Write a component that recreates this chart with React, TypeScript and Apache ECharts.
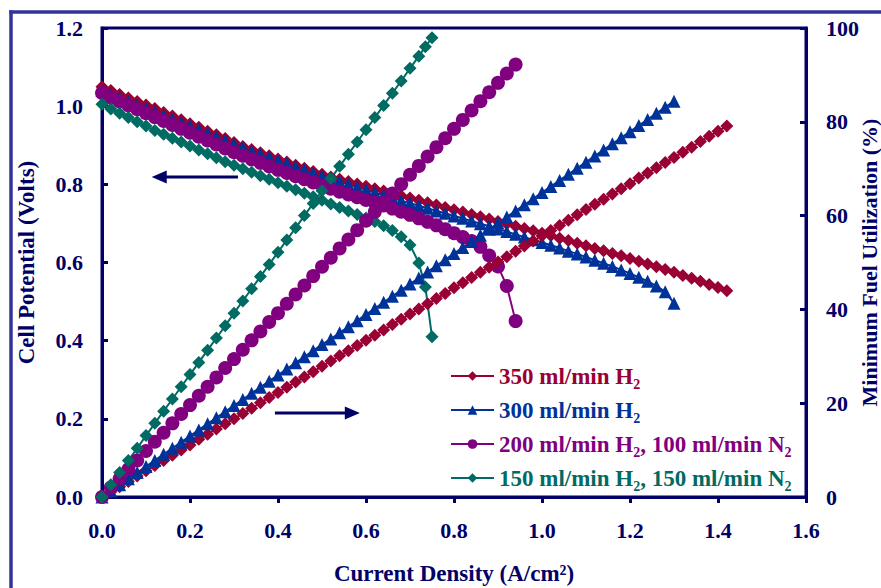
import React, { useEffect, useRef } from 'react';
import * as echarts from 'echarts';

const NAVY = '#000066';
const FONT = '"Liberation Serif", "Times New Roman", serif';

// Current density grid (A/cm2)
const currentGrid = [
  0, 0.02, 0.04, 0.06, 0.08, 0.1, 0.12, 0.14, 0.16, 0.18,
  0.2, 0.22, 0.24, 0.26, 0.28, 0.3, 0.32, 0.34, 0.36, 0.38,
  0.4, 0.42, 0.44, 0.46, 0.48, 0.5, 0.52, 0.54, 0.56, 0.58,
  0.6, 0.62, 0.64, 0.66, 0.68, 0.7, 0.72, 0.74, 0.76, 0.78,
  0.8, 0.82, 0.84, 0.86, 0.88, 0.9, 0.92, 0.94, 0.96, 0.98,
  1.0, 1.02, 1.04, 1.06, 1.08, 1.1, 1.12, 1.14, 1.16, 1.18,
  1.2, 1.22, 1.24, 1.26, 1.28, 1.3, 1.32, 1.34, 1.36, 1.38,
  1.4, 1.42,
];
const tealTailCurrent = [0.735, 0.75];

// 350 ml/min H2
const v350 = [
  1.050, 1.040, 1.030, 1.021, 1.012, 1.003, 0.994, 0.984, 0.975, 0.965,
  0.955, 0.946, 0.936, 0.927, 0.917, 0.907, 0.897, 0.889, 0.881, 0.873,
  0.865, 0.857, 0.849, 0.841, 0.833, 0.826, 0.819, 0.813, 0.807, 0.801,
  0.795, 0.789, 0.783, 0.777, 0.771, 0.765, 0.759, 0.753, 0.747, 0.741,
  0.735, 0.729, 0.723, 0.717, 0.711, 0.705, 0.699, 0.693, 0.687, 0.681,
  0.675, 0.669, 0.662, 0.656, 0.649, 0.643, 0.636, 0.630, 0.623, 0.617,
  0.610, 0.603, 0.596, 0.589, 0.582, 0.575, 0.567, 0.560, 0.552, 0.544,
  0.536, 0.528,
];
const u350 = [
  0, 1.1, 2.2, 3.3, 4.5, 5.6, 6.7, 7.8, 8.9, 10.0,
  11.1, 12.3, 13.4, 14.5, 15.6, 16.7, 17.8, 18.9, 20.1, 21.2,
  22.3, 23.4, 24.5, 25.6, 26.7, 27.9, 29.0, 30.1, 31.2, 32.3,
  33.4, 34.5, 35.6, 36.8, 37.9, 39.0, 40.1, 41.2, 42.3, 43.4,
  44.6, 45.7, 46.8, 47.9, 49.0, 50.1, 51.2, 52.4, 53.5, 54.6,
  55.7, 56.8, 57.9, 59.0, 60.2, 61.3, 62.4, 63.5, 64.6, 65.7,
  66.8, 68.0, 69.1, 70.2, 71.3, 72.4, 73.5, 74.6, 75.8, 76.9,
  78.0, 79.1,
];

// 300 ml/min H2
const v300 = [
  1.040, 1.030, 1.021, 1.012, 1.003, 0.994, 0.985, 0.976, 0.967, 0.958,
  0.949, 0.940, 0.931, 0.922, 0.912, 0.903, 0.894, 0.885, 0.877, 0.869,
  0.861, 0.853, 0.845, 0.837, 0.829, 0.821, 0.814, 0.807, 0.800, 0.793,
  0.786, 0.779, 0.772, 0.765, 0.758, 0.752, 0.745, 0.739, 0.732, 0.726,
  0.719, 0.713, 0.706, 0.699, 0.693, 0.686, 0.679, 0.672, 0.665, 0.658,
  0.651, 0.644, 0.637, 0.629, 0.622, 0.614, 0.606, 0.598, 0.590, 0.581,
  0.572, 0.562, 0.552, 0.540, 0.525, 0.496,
];
const u300 = [
  0, 1.3, 2.6, 3.9, 5.2, 6.5, 7.8, 9.1, 10.4, 11.7,
  13.0, 14.3, 15.6, 16.9, 18.2, 19.5, 20.8, 22.1, 23.4, 24.7,
  26.0, 27.3, 28.6, 29.9, 31.2, 32.5, 33.7, 35.0, 36.3, 37.6,
  38.9, 40.2, 41.5, 42.8, 44.1, 45.4, 46.7, 48.0, 49.3, 50.6,
  51.9, 53.2, 54.5, 55.8, 57.1, 58.4, 59.7, 61.0, 62.3, 63.6,
  64.9, 66.2, 67.5, 68.8, 70.1, 71.4, 72.7, 74.0, 75.3, 76.6,
  77.9, 79.2, 80.5, 81.8, 83.1, 84.4,
];

// 200 ml/min H2, 100 ml/min N2
const v200 = [
  1.034, 1.022, 1.012, 1.002, 0.992, 0.982, 0.972, 0.962, 0.952, 0.942,
  0.932, 0.922, 0.912, 0.902, 0.892, 0.882, 0.873, 0.864, 0.855, 0.846,
  0.837, 0.829, 0.821, 0.813, 0.805, 0.797, 0.789, 0.781, 0.774, 0.767,
  0.760, 0.753, 0.746, 0.738, 0.730, 0.722, 0.713, 0.704, 0.695, 0.685,
  0.675, 0.665, 0.655, 0.640, 0.618, 0.590, 0.540, 0.450,
];
const u200 = [
  0, 2.0, 3.9, 5.9, 7.8, 9.8, 11.8, 13.7, 15.7, 17.7,
  19.6, 21.6, 23.5, 25.5, 27.5, 29.4, 31.4, 33.4, 35.3, 37.3,
  39.2, 41.2, 43.2, 45.1, 47.1, 49.1, 51.0, 53.0, 54.9, 56.9,
  58.9, 60.8, 62.8, 64.7, 66.7, 68.7, 70.6, 72.6, 74.6, 76.5,
  78.5, 80.4, 82.4, 84.4, 86.3, 88.3, 90.3, 92.2,
];

// 150 ml/min H2, 150 ml/min N2
const v150 = [
  1.005, 0.993, 0.982, 0.971, 0.960, 0.949, 0.938, 0.928, 0.918, 0.908,
  0.898, 0.888, 0.878, 0.868, 0.858, 0.849, 0.840, 0.831, 0.822, 0.813,
  0.804, 0.795, 0.786, 0.777, 0.768, 0.759, 0.750, 0.741, 0.732, 0.723,
  0.714, 0.705, 0.694, 0.682, 0.666, 0.645, 0.599, 0.537, 0.410,
];
const u150 = [
  0, 2.6, 5.2, 7.8, 10.4, 13.1, 15.7, 18.3, 20.9, 23.5,
  26.1, 28.7, 31.3, 33.9, 36.5, 39.2, 41.8, 44.4, 47.0, 49.6,
  52.2, 54.8, 57.4, 60.0, 62.6, 65.3, 67.9, 70.5, 73.1, 75.7,
  78.3, 80.9, 83.5, 86.1, 88.7, 91.4, 94.0, 96.0, 97.9,
];

const xTicks = { min: 0, max: 1.6, interval: 0.2 };
const yLeftTicks = { min: 0, max: 1.2, interval: 0.2 };
const yRightTicks = { min: 0, max: 100, interval: 20 };

const seriesDefs = [
  { name: '350 ml/min H2', color: '#990033', symbol: 'diamond', size: 13, v: v350, u: u350, n: v350.length, tail: [] as number[] },
  { name: '300 ml/min H2', color: '#003399', symbol: 'triangle', size: 13, v: v300, u: u300, n: v300.length, tail: [] as number[] },
  { name: '200 ml/min H2, 100 ml/min N2', color: '#800080', symbol: 'circle', size: 14, v: v200, u: u200, n: v200.length, tail: [] as number[] },
  { name: '150 ml/min H2, 150 ml/min N2', color: '#006B62', symbol: 'diamond', size: 13, v: v150, u: u150, n: v150.length - tealTailCurrent.length, tail: tealTailCurrent },
];

function xsFor(d: typeof seriesDefs[number]) {
  return currentGrid.slice(0, d.n).concat(d.tail);
}

export default function App() {
  const ref = useRef<HTMLDivElement>(null);
  useEffect(() => {
    document.body.style.margin = '0';
    document.body.style.overflow = 'hidden';
    const chart = echarts.init(ref.current!, undefined, { renderer: 'svg', width: 881, height: 588 });
    const labelStyle = { fontFamily: FONT, fontWeight: 'bold' as const, fontSize: 22, color: NAVY };
    const nameStyle = { ...labelStyle, fontSize: 23 };
    const mk = (d: typeof seriesDefs[number], which: 'v' | 'u') => {
      const xs = xsFor(d);
      const ys = which === 'v' ? d.v : d.u;
      return {
        type: 'line',
        name: d.name,
        yAxisIndex: which === 'v' ? 0 : 1,
        data: xs.map((x, i) => [x, ys[i]]),
        symbol: d.symbol,
        symbolSize: d.size,
        showAllSymbol: true,
        itemStyle: { color: d.color },
        lineStyle: { color: d.color, width: 2 },
        emphasis: { disabled: true },
      };
    };
    const series = [
      ...seriesDefs.map((d) => mk(d, 'v')),
      ...seriesDefs.map((d) => mk(d, 'u')),
    ];
    chart.setOption({
      animation: false,
      backgroundColor: '#ffffff',
      grid: {
        left: 102, right: 75, top: 28, bottom: 91,
        show: true, borderColor: NAVY, borderWidth: 3,
        containLabel: false, outerBoundsMode: 'none',
      },
      xAxis: {
        type: 'value',
        ...xTicks,
        name: 'Current Density (A/cm²)',
        nameLocation: 'middle',
        nameGap: 65,
        nameTextStyle: nameStyle,
        axisLine: { show: true, lineStyle: { color: NAVY, width: 3 } },
        axisTick: { show: true, inside: false, length: 6, lineStyle: { color: NAVY, width: 3 } },
        axisLabel: { ...labelStyle, margin: 22, formatter: (v: number) => v.toFixed(1) },
        splitLine: { show: false },
      },
      yAxis: [
        {
          type: 'value',
          ...yLeftTicks,
          name: 'Cell Potential (Volts)',
          nameLocation: 'middle',
          nameGap: 64,
          nameTextStyle: nameStyle,
          axisLine: { show: true, lineStyle: { color: NAVY, width: 3 } },
          axisTick: { show: true, inside: true, length: 6, lineStyle: { color: NAVY, width: 3 } },
          axisLabel: { ...labelStyle, margin: 19, formatter: (v: number) => v.toFixed(1) },
          splitLine: { show: false },
        },
        {
          type: 'value',
          position: 'right',
          ...yRightTicks,
          name: 'Minimum Fuel Utilization (%)',
          nameLocation: 'middle',
          nameGap: 52,
          nameRotate: 90,
          nameMoveOverlap: false,
          nameTextStyle: { ...nameStyle, fontSize: 22 },
          axisLine: { show: true, lineStyle: { color: NAVY, width: 3 } },
          axisTick: { show: true, inside: true, length: 6, lineStyle: { color: NAVY, width: 3 } },
          axisLabel: { ...labelStyle, margin: 20 },
          splitLine: { show: false },
        },
      ],
      legend: {
        orient: 'vertical',
        left: 445,
        top: 356,
        itemWidth: 43,
        itemHeight: 12,
        itemGap: 4,
        data: seriesDefs.map((d) => ({ name: d.name, textStyle: { color: d.color } })),
        formatter: (name: string) => name.replace(/H2/g, 'H{sub|2}').replace(/N2/g, 'N{sub|2}'),
        textStyle: {
          fontFamily: FONT,
          fontWeight: 'bold',
          fontSize: 23,
          lineHeight: 30,
          rich: {
            sub: { fontFamily: FONT, fontWeight: 'bold', fontSize: 14, lineHeight: 13, verticalAlign: 'bottom' },
          },
        },
      },
      series,
    });

    const p = (x: number, y: number) => chart.convertToPixel({ xAxisIndex: 0, yAxisIndex: 0 }, [x, y]) as number[];
    const arrow = (from: number[], to: number[]) => {
      const dir = Math.sign(to[0] - from[0]);
      const head = 15;
      return [
        { type: 'line', shape: { x1: from[0], y1: from[1], x2: to[0] - dir * head * 0.8, y2: to[1] }, style: { stroke: NAVY, lineWidth: 3 }, z: 20 },
        {
          type: 'polygon',
          shape: { points: [[to[0], to[1]], [to[0] - dir * head, to[1] - 6.5], [to[0] - dir * head, to[1] + 6.5]] },
          style: { fill: NAVY },
          z: 20,
        },
      ];
    };
    chart.setOption({
      graphic: [
        { type: 'line', shape: { x1: 11, y1: 10.25, x2: 11, y2: 588 }, style: { stroke: '#333399', lineWidth: 3.5 }, z: 30, silent: true },
        { type: 'line', shape: { x1: 9.25, y1: 12, x2: 881, y2: 12 }, style: { stroke: '#333399', lineWidth: 3.5 }, z: 30, silent: true },
        ...arrow(p(0.309, 0.819), p(0.113, 0.819)),
        ...arrow(p(0.393, 0.215), p(0.586, 0.215)),
      ],
    });
    return () => chart.dispose();
  }, []);
  return <div ref={ref} style={{ position: 'fixed', left: 0, top: 0, width: 881, height: 588, overflow: 'hidden', background: '#fff' }} />;
}
